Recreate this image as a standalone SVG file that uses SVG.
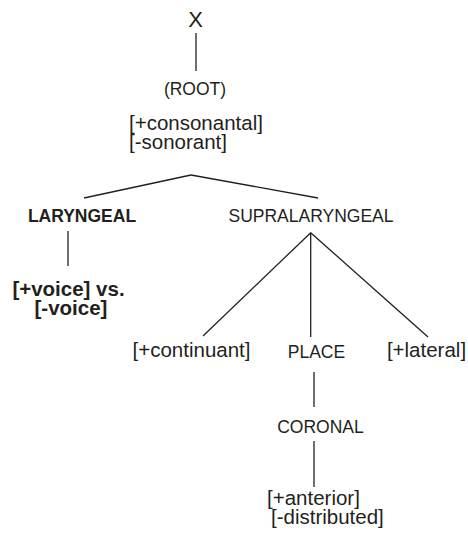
<svg xmlns="http://www.w3.org/2000/svg" width="468" height="536" viewBox="0 0 468 536">
<style>
text{font-family:"Liberation Sans",Arial,sans-serif;fill:#231f20;text-anchor:middle}
.lab{font-size:17.5px}
.feat{font-size:20.5px}
.bold{font-weight:bold}
.c line{stroke:#231f20;stroke-width:1.3}
</style>
<rect width="468" height="536" fill="#fff"/>
<g id="x"><text x="195.5" y="27" style="font-size:22px">X</text></g>
<g id="root"><text class="lab" x="195" y="95">(ROOT)</text></g>
<g id="rootfeat"><text class="feat" x="129" y="130" style="text-anchor:start">[+consonantal]</text><text class="feat" x="129" y="149" style="text-anchor:start">[-sonorant]</text></g>
<g id="laryngeal"><text class="lab bold" x="82" y="222">LARYNGEAL</text></g>
<g id="voice"><text class="feat bold" x="68.5" y="296">[+voice] vs.</text><text class="feat bold" x="71" y="315">[-voice]</text></g>
<g id="supra"><text class="lab" x="311" y="222">SUPRALARYNGEAL</text></g>
<g id="continuant"><text class="feat" x="191.5" y="357">[+continuant]</text></g>
<g id="place"><text class="lab" x="316.5" y="358">PLACE</text></g>
<g id="lateral"><text class="feat" x="426.5" y="357">[+lateral]</text></g>
<g id="coronal"><text class="lab" x="320.5" y="433">CORONAL</text></g>
<g id="corfeat"><text class="feat" x="267" y="505" style="text-anchor:start">[+anterior]</text><text class="feat" x="271" y="524" style="text-anchor:start">[-distributed]</text></g>
<g class="c" id="connectors">
<line x1="196" y1="33" x2="196" y2="71"/>
<line x1="191" y1="175" x2="84" y2="198"/>
<line x1="191" y1="175" x2="318" y2="198"/>
<line x1="68" y1="231" x2="68" y2="266"/>
<line x1="310.7" y1="232.7" x2="203" y2="336"/>
<line x1="310.7" y1="232.7" x2="310.7" y2="337"/>
<line x1="310.7" y1="232.7" x2="428" y2="337"/>
<line x1="314" y1="372" x2="314" y2="407"/>
<line x1="314" y1="441" x2="314" y2="487"/>
</g>
</svg>
